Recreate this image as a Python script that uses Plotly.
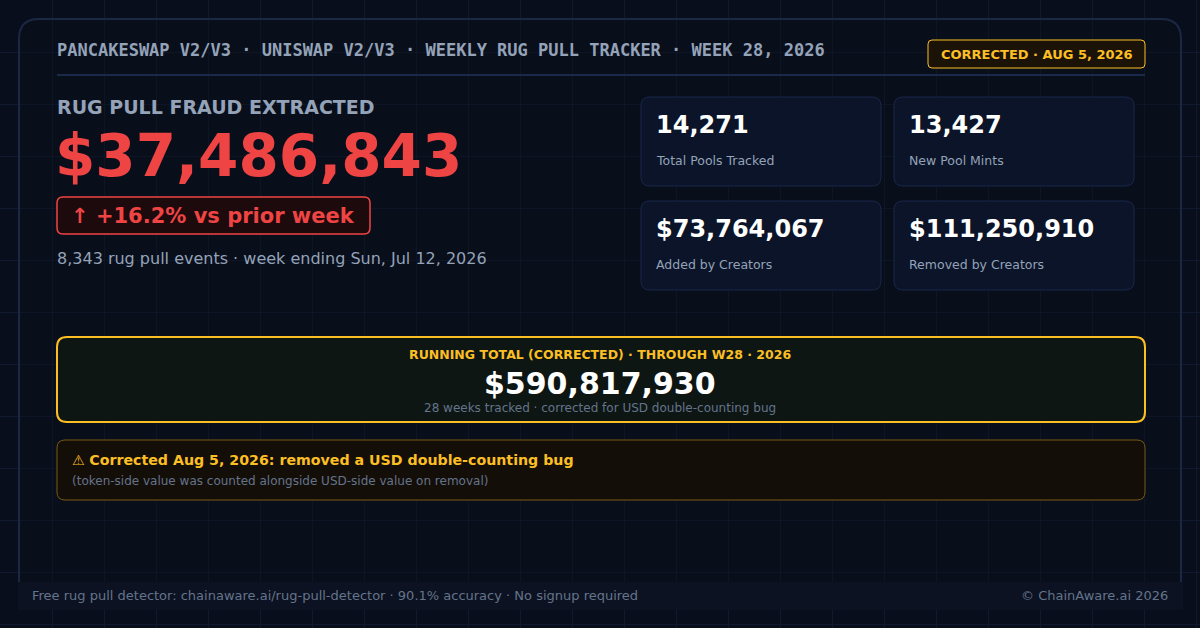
import plotly.graph_objects as go

########## DATA ##########
header_parts = ["PANCAKESWAP V2/V3", "UNISWAP V2/V3", "WEEKLY RUG PULL TRACKER", "WEEK 28, 2026"]
badge_text = "CORRECTED · AUG 5, 2026"

hero_label = "RUG PULL FRAUD EXTRACTED"
hero_value = 37486843
change_pct = 16.2
event_count = 8343
week_ending = "Sun, Jul 12, 2026"

stat_labels = ["Total Pools Tracked", "New Pool Mints", "Added by Creators", "Removed by Creators"]
stat_values = [14271, 13427, 73764067, 111250910]
stat_is_usd = [False, False, True, True]

running_label = "RUNNING TOTAL (CORRECTED) · THROUGH W28 · 2026"
running_total = 590817930
weeks_tracked = 28
running_note = "corrected for USD double-counting bug"

fix_icon = "⚠"
fix_title = "Corrected Aug 5, 2026: removed a USD double-counting bug"
fix_note = "(token-side value was counted alongside USD-side value on removal)"

footer_left = ["Free rug pull detector: chainaware.ai/rug-pull-detector", "90.1% accuracy", "No signup required"]
footer_right = "© ChainAware.ai 2026"

########## STYLE ##########
BG = "#090e1c"
GRID = "#0f1a2f"
MUTED = "#94a3b8"
DIM = "#64748b"
RED = "#ef4444"
AMBER = "#fbbf24"
SANS = "DejaVu Sans"
MONO = "DejaVu Sans Mono"


def rounded(x0, y0, x1, y1, r):
    # rounded rectangle as an svg path (y grows downward on this axis)
    return (f"M{x0 + r},{y0} L{x1 - r},{y0} Q{x1},{y0} {x1},{y0 + r} "
            f"L{x1},{y1 - r} Q{x1},{y1} {x1 - r},{y1} L{x0 + r},{y1} "
            f"Q{x0},{y1} {x0},{y1 - r} L{x0},{y0 + r} Q{x0},{y0} {x0 + r},{y0} Z")


def box(x0, y0, x1, y1, r, fill, line, width=1):
    return dict(type="path", xref="x", yref="y", path=rounded(x0, y0, x1, y1, r),
                fillcolor=fill, line=dict(color=line, width=width), layer="above")


def label(x, y, text, size, color, family=SANS, anchor="left", bold=False):
    if bold:
        text = f"<b>{text}</b>"
    return dict(x=x, y=y, xref="x", yref="y", text=text, showarrow=False,
                xanchor=anchor, yanchor="middle", font=dict(family=family, size=size, color=color))


shapes = []
annotations = []

# outer card + header
shapes.append(box(19, 19, 1181, 606, 20, "rgba(9,14,28,0.4)", "#1b2844", 2))
shapes.append(dict(type="line", xref="x", yref="y", x0=57, x1=1145, y0=75, y1=75,
                   line=dict(color="#1b2a48", width=2)))
annotations.append(label(55, 50, " · ".join(header_parts), 17, MUTED, MONO, bold=True))
shapes.append(box(928, 40, 1145, 68, 4, "#1b1307", AMBER, 1))
annotations.append(label(1036.5, 54.5, badge_text, 13, AMBER, anchor="center", bold=True))

# hero block
annotations.append(label(55, 107, hero_label, 19, MUTED, bold=True))
annotations.append(label(53, 156, f"${hero_value:,}", 58, RED, bold=True))
shapes.append(box(57, 197, 370, 234, 6, "#1c0a0c", RED, 1.5))
annotations.append(label(69, 216, f"↑ +{change_pct}% vs prior week", 21, RED, bold=True))
annotations.append(label(55, 258, f"{event_count:,} rug pull events · week ending {week_ending}", 16, MUTED))

# stat cards 2x2
card_x = [641, 894]
card_y = [97, 201]
for i, (lab, val, usd) in enumerate(zip(stat_labels, stat_values, stat_is_usd)):
    cx = card_x[i % 2]
    cy = card_y[i // 2]
    shapes.append(box(cx, cy, cx + 240, cy + 89, 9, "#0b1428", "#18264a", 1))
    text = f"${val:,}" if usd else f"{val:,}"
    annotations.append(label(cx + 13, cy + 28, text, 24, "#ffffff", bold=True))
    annotations.append(label(cx + 13, cy + 63, lab, 12.5, MUTED))

# running total
shapes.append(box(57, 337, 1145, 422, 10, "#0e1613", AMBER, 2))
annotations.append(label(600, 354, running_label, 12.5, AMBER, anchor="center", bold=True))
annotations.append(label(600, 383, f"${running_total:,}", 30, "#ffffff", anchor="center", bold=True))
annotations.append(label(600, 408, f"{weeks_tracked} weeks tracked · {running_note}", 12, DIM, anchor="center"))

# correction note
shapes.append(box(57, 440, 1145, 500, 8, "#140e09", "#7a5912", 1))
annotations.append(label(70, 460, f"{fix_icon} <b>{fix_title}</b>", 14.2, AMBER))
annotations.append(label(70, 481, fix_note, 12, DIM))

# footer strip
shapes.append(dict(type="rect", xref="x", yref="y", x0=18, x1=1183, y0=582, y1=610,
                   fillcolor="#0c1221", line=dict(width=0), layer="above"))
annotations.append(label(30, 595, " · ".join(footer_left), 13, DIM))
annotations.append(label(1170, 595, footer_right, 13, DIM, anchor="right"))

fig = go.Figure()
fig.update_layout(
    width=1200, height=628, autosize=False,
    margin=dict(l=0, r=0, t=0, b=0),
    paper_bgcolor=BG, plot_bgcolor=BG,
    showlegend=False,
    shapes=shapes, annotations=annotations,
)
fig.update_xaxes(range=[0, 1200], tick0=0, dtick=52, showgrid=True, gridcolor=GRID, gridwidth=1,
                 zeroline=False, showticklabels=False, ticks="", fixedrange=True)
fig.update_yaxes(range=[628, 0], tick0=0, dtick=52, showgrid=True, gridcolor=GRID, gridwidth=1,
                 zeroline=False, showticklabels=False, ticks="", fixedrange=True)

# browser default body margin would shift the card by 8px
fig.write_html("out.html", config={"displayModeBar": False},
               post_script="document.body.style.margin='0';document.body.style.background='%s';" % BG)
